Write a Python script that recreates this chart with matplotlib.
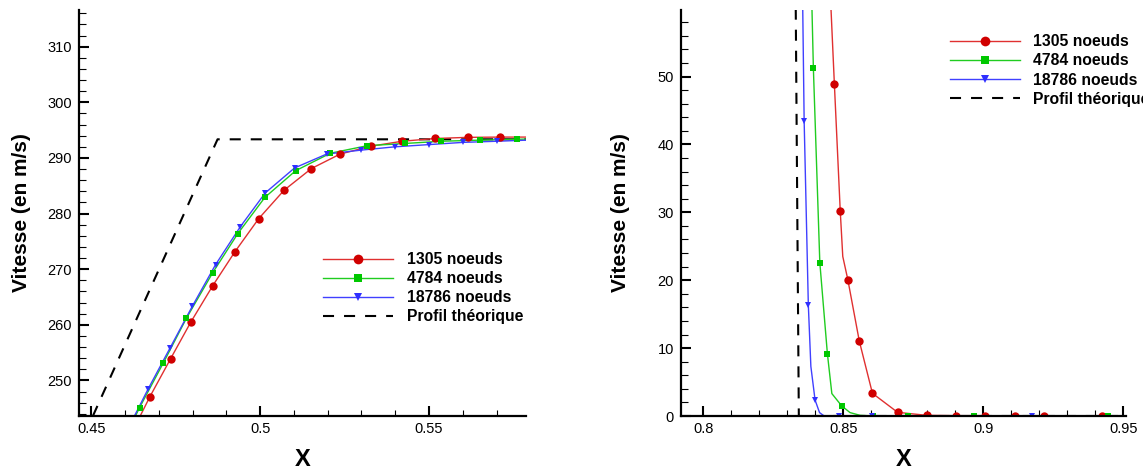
import matplotlib
matplotlib.use("Agg")
import matplotlib.pyplot as plt
from matplotlib.ticker import MultipleLocator, FuncFormatter

plt.rcParams['font.family'] = ['Liberation Sans', 'DejaVu Sans']

# ---------------- data : left panel (zoom on the expansion) ----------------
labels = ["1305 noeuds", "4784 noeuds", "18786 noeuds", "Profil théorique"]

L_red_x = [0.4674, 0.4735, 0.4795, 0.4860, 0.4925, 0.4996, 0.5071, 0.5152,
           0.5237, 0.5327, 0.5420, 0.5518, 0.5614, 0.5710]
L_red_y = [247.1, 253.9, 260.5, 267.05, 273.1, 279.1, 284.2, 288.1,
           290.7, 292.1, 293.0, 293.5, 293.7, 293.75]
L_red_edge_x = [0.4645, 0.5790]
L_red_edge_y = [243.6, 293.75]

L_green_x = [0.4643, 0.4714, 0.4782, 0.4860, 0.4934, 0.5014, 0.5105, 0.5208,
             0.5317, 0.5428, 0.5536, 0.5651, 0.5761]
L_green_y = [245.1, 253.2, 261.2, 269.4, 276.4, 282.9, 287.7, 290.85,
             292.2, 292.6, 293.0, 293.2, 293.35]
L_green_edge_x = [0.4631, 0.5790]
L_green_edge_y = [243.6, 293.4]

L_blue_x = [0.4668, 0.4734, 0.4799, 0.4868, 0.4941, 0.5015, 0.5102, 0.5197,
            0.5298, 0.5399, 0.5500, 0.5601, 0.5700]
L_blue_y = [248.4, 255.9, 263.3, 270.8, 277.6, 283.7, 288.2, 290.7,
            291.4, 292.0, 292.4, 292.8, 293.0]
L_blue_edge_x = [0.4628, 0.5790]
L_blue_edge_y = [243.6, 293.2]

L_theo_x = [0.4505, 0.4874, 0.5790]
L_theo_y = [243.6, 293.35, 293.35]

# ---------------- data : right panel (zoom on the shock) ----------------
R_red_x = [0.8468, 0.8489, 0.8516, 0.8557, 0.8604, 0.8694, 0.8798, 0.8902,
           0.9007, 0.9112, 0.9218, 0.9426]
R_red_y = [48.9, 30.2, 20.1, 11.05, 3.34, 0.54, 0.1, 0.05, 0.05, 0.0, 0.0, 0.0]
R_red_line_x = [0.8456, 0.8468, 0.8489, 0.8498, 0.8516, 0.8557, 0.8604, 0.8694,
                0.8798, 0.8902, 0.9007, 0.9112, 0.9218, 0.9426, 0.951]
R_red_line_y = [59.9, 48.9, 30.2, 23.5, 20.1, 11.05, 3.34, 0.54,
                0.1, 0.05, 0.05, 0.0, 0.0, 0.0, 0.0]

R_green_x = [0.8393, 0.8416, 0.8443, 0.8494, 0.8607, 0.8730, 0.8968, 0.9446]
R_green_y = [51.2, 22.6, 9.2, 1.5, 0.0, 0.0, 0.0, 0.0]
R_green_line_x = [0.8388, 0.8393, 0.8416, 0.8443, 0.8459, 0.8494, 0.8524, 0.8560,
                  0.8607, 0.8730, 0.8968, 0.9446, 0.951]
R_green_line_y = [59.9, 51.2, 22.6, 9.2, 3.3, 1.5, 0.5, 0.1,
                  0.0, 0.0, 0.0, 0.0, 0.0]

R_blue_x = [0.8360, 0.8375, 0.8399, 0.8485, 0.8601, 0.9173]
R_blue_y = [43.5, 16.3, 2.36, 0.0, 0.0, 0.0]
R_blue_line_x = [0.8355, 0.8360, 0.8375, 0.8384, 0.8399, 0.8415, 0.8430,
                 0.8485, 0.8601, 0.9173, 0.951]
R_blue_line_y = [59.9, 43.5, 16.3, 7.3, 2.36, 0.5, 0.05,
                 0.0, 0.0, 0.0, 0.0]

R_theo_x = [0.8330, 0.8341, 0.951]
R_theo_y = [60.0, 0.0, 0.0]

# ---------------- style ----------------
RED = '#d00000'
GREEN = '#00c800'
BLUE = '#2f2fff'
RED_L = '#e03030'
GREEN_L = '#20cc20'
BLUE_L = '#4040ff'

W, H = 1143, 471
fig = plt.figure(figsize=(W / 100, H / 100), dpi=100)

ax1 = fig.add_axes([78.7 / W, (H - 416.0) / H, 447.3 / W, 406.0 / H])
ax2 = fig.add_axes([681.0 / W, (H - 416.0) / H, 445.0 / W, 406.0 / H])


def style_axes(ax):
    for s in ['top', 'right']:
        ax.spines[s].set_visible(False)
    for s in ['left', 'bottom']:
        ax.spines[s].set_linewidth(1.6)
        ax.spines[s].set_zorder(5)
    ax.tick_params(which='both', direction='in', top=False, right=False)
    ax.tick_params(which='major', length=7.3, width=1.5, labelsize=10.5)
    ax.tick_params(axis='x', which='major', pad=4)
    ax.tick_params(axis='y', which='major', pad=5)
    ax.tick_params(axis='x', which='minor', length=4.0, width=0.8)
    ax.tick_params(axis='y', which='minor', length=5.0, width=0.8)
    ax.set_xlabel('X', fontsize=17, fontweight='bold')
    ax.set_ylabel('Vitesse (en m/s)', fontsize=15, fontweight='bold')


def draw_series(ax, lx, ly, mx, my, color, lcolor, marker, ms, label):
    ax.plot(lx, ly, '-', color=lcolor, lw=1.0, zorder=3)
    ax.plot(mx, my, linestyle='none', marker=marker, ms=ms, color=color,
            markeredgewidth=0, zorder=4)
    # legend proxy
    ax.plot([], [], '-', color=lcolor, lw=1.0, marker=marker, ms=ms + 1,
            markerfacecolor=color, markeredgewidth=0, label=label)


def theo(ax, x, y, label):
    ax.plot(x, y, color='black', lw=1.5, dashes=(5.3, 4.8), zorder=2,
            label=label)


# left panel
draw_series(ax1, [L_red_edge_x[0]] + L_red_x + [L_red_edge_x[1]],
            [L_red_edge_y[0]] + L_red_y + [L_red_edge_y[1]],
            L_red_x, L_red_y, RED, RED_L, 'o', 6.0, labels[0])
draw_series(ax1, [L_green_edge_x[0]] + L_green_x + [L_green_edge_x[1]],
            [L_green_edge_y[0]] + L_green_y + [L_green_edge_y[1]],
            L_green_x, L_green_y, GREEN, GREEN_L, 's', 4.6, labels[1])
draw_series(ax1, [L_blue_edge_x[0]] + L_blue_x + [L_blue_edge_x[1]],
            [L_blue_edge_y[0]] + L_blue_y + [L_blue_edge_y[1]],
            L_blue_x, L_blue_y, BLUE, BLUE_L, 'v', 5.0, labels[2])
theo(ax1, L_theo_x, L_theo_y, labels[3])

ax1.set_xlim(0.4463, 0.5787)
ax1.set_ylim(243.6, 316.6)
ax1.xaxis.set_major_locator(MultipleLocator(0.05))
ax1.xaxis.set_minor_locator(MultipleLocator(0.01))
ax1.yaxis.set_major_locator(MultipleLocator(10))
ax1.yaxis.set_minor_locator(MultipleLocator(2))
ax1.xaxis.set_major_formatter(FuncFormatter(lambda v, p: '%g' % round(v, 4)))
style_axes(ax1)
ax1.yaxis.set_label_coords(-(78.7 - 31.5) / 447.3, 0.5)
ax1.xaxis.set_label_coords(0.5, -(448.5 - 416.0) / 406.0)

# right panel
draw_series(ax2, R_red_line_x, R_red_line_y, R_red_x, R_red_y,
            RED, RED_L, 'o', 6.0, labels[0])
draw_series(ax2, R_green_line_x, R_green_line_y, R_green_x, R_green_y,
            GREEN, GREEN_L, 's', 4.6, labels[1])
draw_series(ax2, R_blue_line_x, R_blue_line_y, R_blue_x, R_blue_y,
            BLUE, BLUE_L, 'v', 5.0, labels[2])
theo(ax2, R_theo_x, R_theo_y, labels[3])

ax2.set_xlim(0.7920, 0.9510)
ax2.set_ylim(0, 59.8)
ax2.xaxis.set_major_locator(MultipleLocator(0.05))
ax2.xaxis.set_minor_locator(MultipleLocator(0.01))
ax2.yaxis.set_major_locator(MultipleLocator(10))
ax2.yaxis.set_minor_locator(MultipleLocator(2))
ax2.xaxis.set_major_formatter(FuncFormatter(lambda v, p: '%g' % round(v, 4)))
style_axes(ax2)
ax2.yaxis.set_label_coords(-(681.0 - 630.3) / 445.0, 0.5)
ax2.xaxis.set_label_coords(0.5, -(448.5 - 416.0) / 406.0)

leg_kw = dict(frameon=False, loc='upper left', borderpad=0, borderaxespad=0,
              handlelength=70 / 15.7, handletextpad=13.5 / 15.7,
              labelspacing=0.26, numpoints=1,
              prop={'weight': 'bold', 'size': 11.3})
ax1.legend(bbox_to_anchor=(323.3 / W, (H - 252.0) / H),
           bbox_transform=fig.transFigure, **leg_kw)
ax2.legend(bbox_to_anchor=(949.8 / W, (H - 34.4) / H),
           bbox_transform=fig.transFigure, **leg_kw)

fig.savefig('out.png', dpi=100)
